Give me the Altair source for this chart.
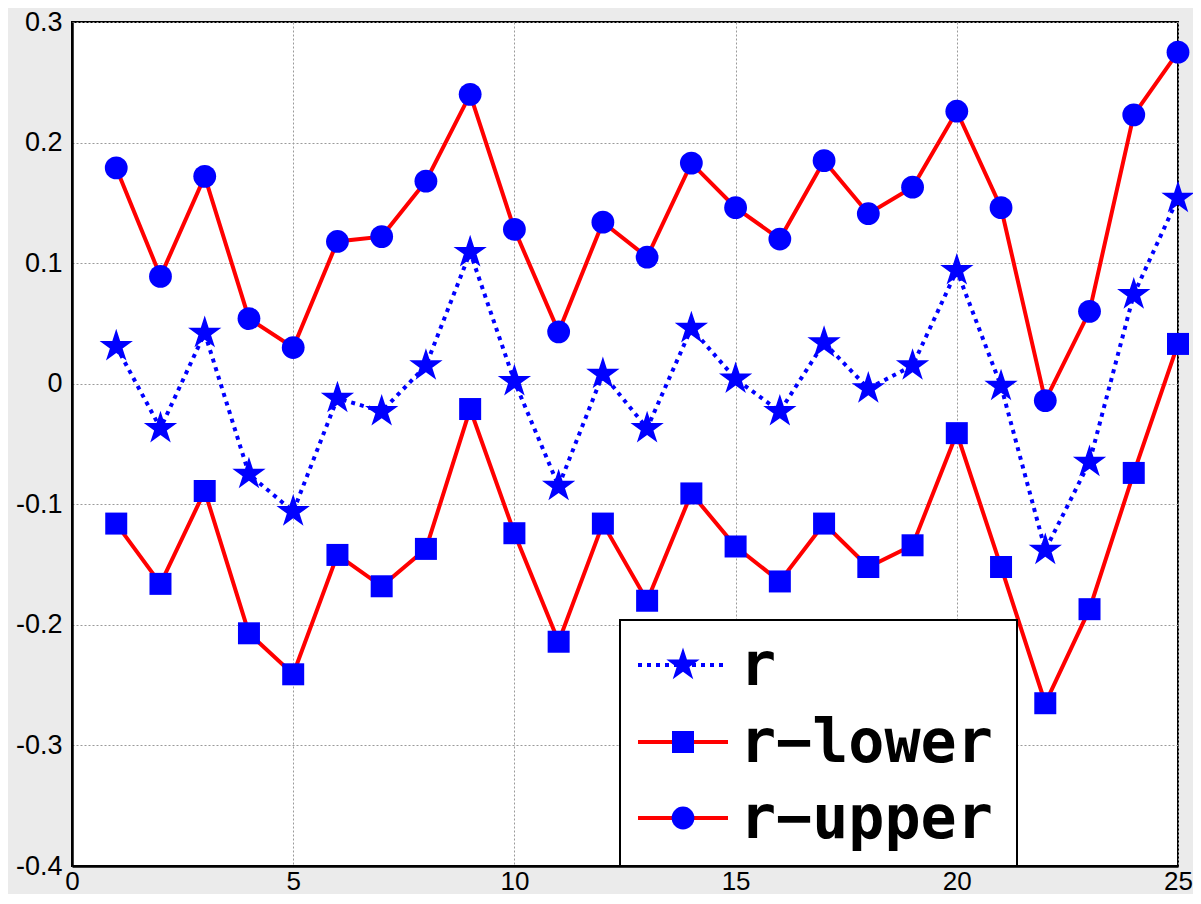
import altair as alt
import pandas as pd

xs = list(range(1, 26))
r_vals = [0.031, -0.037, 0.042, -0.075, -0.106, -0.012, -0.023, 0.015, 0.109, 0.002,
          -0.085, 0.008, -0.037, 0.046, 0.004, -0.023, 0.034, -0.004, 0.015, 0.094,
          -0.002, -0.138, -0.065, 0.074, 0.154]
r_lower = [-0.116, -0.166, -0.089, -0.207, -0.241, -0.142, -0.168, -0.137, -0.021, -0.124,
           -0.214, -0.116, -0.180, -0.091, -0.135, -0.164, -0.116, -0.152, -0.134, -0.041,
           -0.152, -0.265, -0.187, -0.074, 0.033]
r_upper = [0.179, 0.089, 0.172, 0.054, 0.030, 0.118, 0.122, 0.168, 0.240, 0.128,
           0.043, 0.134, 0.105, 0.183, 0.146, 0.120, 0.185, 0.141, 0.163, 0.226,
           0.146, -0.014, 0.060, 0.223, 0.275]
x_ticks = [0, 5, 10, 15, 20, 25]
y_ticks = [-0.4, -0.3, -0.2, -0.1, 0.0, 0.1, 0.2, 0.3]
legend_names = ["r", "r\u2212lower", "r\u2212upper"]

W, H = 1106, 844
STAR = ("M0,-1L0.2245,-0.309L0.951,-0.309L0.363,0.118L0.588,0.809L0,0.382"
        "L-0.588,0.809L-0.363,0.118L-0.951,-0.309L-0.2245,-0.309Z")

df_r = pd.DataFrame({"x": xs, "y": r_vals})
df_lo = pd.DataFrame({"x": xs, "y": r_lower})
df_up = pd.DataFrame({"x": xs, "y": r_upper})

xenc = alt.X("x:Q", scale=alt.Scale(domain=[0, 25], nice=False),
             axis=alt.Axis(values=x_ticks, title=None, labelFontSize=26, labelFont="Liberation Sans",
                           labelColor="black", labelPadding=2, grid=True, gridColor="#9a9a9a",
                           gridDash=[2, 2], gridWidth=1, domainColor="black", domainWidth=2.5,
                           ticks=False, labelFlush=False))
yenc = alt.Y("y:Q", scale=alt.Scale(domain=[-0.4, 0.3], nice=False),
             axis=alt.Axis(values=y_ticks, title=None, labelFontSize=27, labelFont="Liberation Sans",
                           labelColor="black", labelPadding=10, grid=True, gridColor="#9a9a9a",
                           gridDash=[2, 2], gridWidth=1, domainColor="black", domainWidth=2.5,
                           ticks=False, labelFlush=False,
                           labelExpr="replace(format(datum.value, '.1~f'), '\u2212', '-')"))

def series_lines(df, color, dash=None):
    kw = dict(color=color, strokeWidth=4)
    if dash:
        kw["strokeDash"] = dash
    return alt.Chart(df).mark_line(**kw).encode(x=xenc, y=yenc)

def series_points(df, shape, size):
    return alt.Chart(df).mark_point(shape=shape, size=size, filled=True, color="#0000ff",
                                    opacity=1, strokeWidth=0).encode(x=xenc, y=yenc)

one = pd.DataFrame({"k": [0]})
ROWS = [643, 720, 796]

layers = [
    series_lines(df_up, "red"),
    series_lines(df_lo, "red"),
    series_lines(df_r, "#0000ff", dash=[4, 5]),
    series_points(df_up, "circle", 520),
    series_points(df_lo, "square", 484),
    series_points(df_r, STAR, 1225),
    alt.Chart(one).mark_rect(fill="white", stroke="black", strokeWidth=2).encode(
        x=alt.value(548), x2=alt.value(945), y=alt.value(598), y2=alt.value(844)),
]
line_styles = [("#0000ff", [4, 5]), ("red", None), ("red", None)]
markers = [(STAR, 1225), ("square", 484), ("circle", 520)]
for i, name in enumerate(legend_names):
    col, dash = line_styles[i]
    kw = dict(color=col, strokeWidth=4)
    if dash:
        kw["strokeDash"] = dash
    layers.append(alt.Chart(one).mark_rule(**kw).encode(
        x=alt.value(566), x2=alt.value(656), y=alt.value(ROWS[i])))
    shp, sz = markers[i]
    layers.append(alt.Chart(one).mark_point(shape=shp, size=sz, filled=True, color="#0000ff",
                                            opacity=1, strokeWidth=0).encode(
        x=alt.value(611), y=alt.value(ROWS[i])))
    layers.append(alt.Chart(one).mark_text(align="left", baseline="middle", font="DejaVu Sans Mono",
                                           fontWeight="bold", fontSize=60, color="black", dy=2).encode(
        x=alt.value(668), y=alt.value(ROWS[i]), text=alt.value(name)))

chart = alt.layer(*layers).properties(
    width=W, height=H,
    background="#ebebeb",
    padding={"left": 64, "top": 14, "right": 15, "bottom": 28},
    autosize=alt.AutoSizeParams(type="none"),
).configure_view(fill="white", stroke="black", strokeWidth=2)

chart.save("out.html", embed_options={"renderer": "svg", "actions": False})
